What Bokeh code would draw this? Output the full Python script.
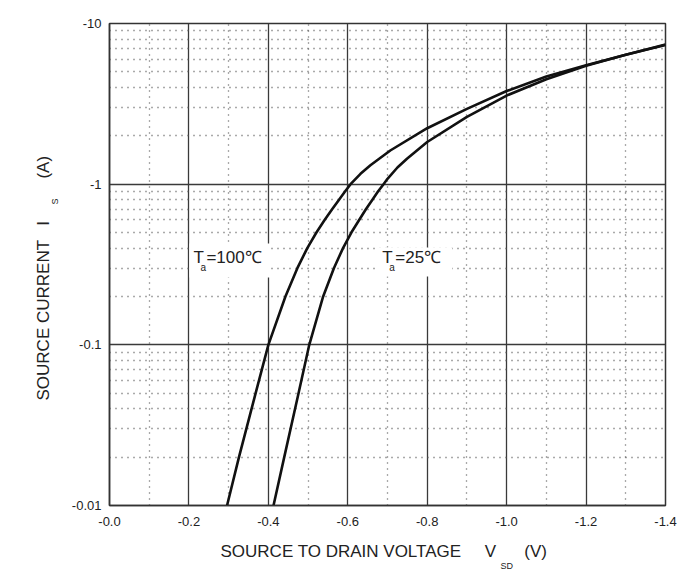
from bokeh.plotting import figure
from bokeh.models import FixedTicker, Label, BoxAnnotation, Range1d, Title
from bokeh.embed import file_html
from bokeh.resources import INLINE

# ---------------- data ----------------
x_ticks = [0.0, 0.2, 0.4, 0.6, 0.8, 1.0, 1.2, 1.4]
x_tick_labels = ["-0.0", "-0.2", "-0.4", "-0.6", "-0.8", "-1.0", "-1.2", "-1.4"]
x_minor = [0.1, 0.3, 0.5, 0.7, 0.9, 1.1, 1.3]
y_ticks = [0.01, 0.1, 1.0, 10.0]
y_tick_labels = ["-0.01", "-0.1", "-1", "-10"]
y_minor = [m * d for d in (0.01, 0.1, 1.0) for m in range(2, 10)]

# Ta = 100 C
v_100 = [0.296, 0.326, 0.368, 0.400, 0.443, 0.473, 0.498, 0.521, 0.542, 0.561,
         0.578, 0.593, 0.607, 0.632, 0.657, 0.707, 0.80, 0.90, 1.00, 1.10,
         1.20, 1.30, 1.40]
i_100 = [0.01, 0.02, 0.05, 0.1, 0.2, 0.3, 0.4, 0.5, 0.6, 0.7,
         0.8, 0.9, 1.0, 1.16, 1.31, 1.62, 2.23, 2.94, 3.80, 4.68,
         5.50, 6.40, 7.35]

# Ta = 25 C
v_25 = [0.413, 0.440, 0.476, 0.503, 0.538, 0.565, 0.588, 0.609, 0.629, 0.646,
        0.662, 0.676, 0.690, 0.700, 0.725, 0.749, 0.80, 0.90, 1.00, 1.10,
        1.20, 1.30, 1.40]
i_25 = [0.01, 0.02, 0.05, 0.1, 0.2, 0.3, 0.4, 0.5, 0.6, 0.7,
        0.8, 0.9, 1.0, 1.08, 1.27, 1.44, 1.83, 2.62, 3.56, 4.50,
        5.46, 6.40, 7.40]

x_title = "SOURCE TO DRAIN VOLTAGE"
x_unit = "V"
x_sub = "SD"
x_unit2 = "(V)"
y_title = "SOURCE CURRENT"
y_unit = "I"
y_sub = "S"
y_unit2 = "(A)"

# ---------------- figure ----------------
FONT = "Liberation Sans"
TXT = "#222222"
NB = "\u00a0"

p = figure(width=688, height=580, y_axis_type="log",
           x_range=Range1d(0, 1.4), y_range=Range1d(0.01, 10),
           output_backend="svg", toolbar_location=None,
           min_border_left=109, min_border_right=23,
           min_border_top=23, min_border_bottom=75)

p.outline_line_color = "#333333"
p.outline_line_width = 1.5
p.background_fill_color = "white"
p.border_fill_color = "white"

# grids
p.xgrid.ticker = FixedTicker(ticks=x_ticks, minor_ticks=x_minor)
p.ygrid.ticker = FixedTicker(ticks=y_ticks, minor_ticks=y_minor)
for g in (p.xgrid, p.ygrid):
    g.grid_line_color = "#3a3a3a"
    g.grid_line_width = 1.3
    g.grid_line_alpha = 1.0
    g.minor_grid_line_color = "#555555"
    g.minor_grid_line_width = 1.3
    g.minor_grid_line_dash = "1 5"

# axes
p.xaxis.ticker = FixedTicker(ticks=x_ticks, minor_ticks=[])
p.yaxis.ticker = FixedTicker(ticks=y_ticks, minor_ticks=[])
p.xaxis.major_label_overrides = {t: s for t, s in zip(x_ticks, x_tick_labels)}
p.yaxis.major_label_overrides = {t: s for t, s in zip(y_ticks, y_tick_labels)}
for ax in (p.xaxis, p.yaxis):
    ax.axis_line_color = "#333333"
    ax.axis_line_width = 1.5
    ax.major_tick_line_color = None
    ax.minor_tick_line_color = None
    ax.major_tick_out = 0
    ax.major_tick_in = 0
    ax.major_label_text_font = FONT
    ax.major_label_text_font_size = "13px"
    ax.major_label_text_color = TXT
p.xaxis.major_label_standoff = 11
p.yaxis.major_label_standoff = 8

# curves
p.line(v_100, i_100, line_color="#111111", line_width=2.6, line_join="round")
p.line(v_25, i_25, line_color="#111111", line_width=2.6, line_join="round")


# ---------------- in-plot labels (positions given in page pixels) ----------------
def px2x(px):
    return (px - 109) / 397.5


def py2y(py):
    return 10 ** (1 - (py - 23) / 160.7)


def lab(text, px, py, size):
    p.add_layout(Label(x=px2x(px), y=py2y(py), text=text,
                       text_font=FONT, text_font_size=size,
                       text_color=TXT, text_align="left",
                       text_baseline="middle"))


p.add_layout(BoxAnnotation(left=px2x(189), right=px2x(270),
                           bottom=py2y(277), top=py2y(243),
                           fill_color="white", fill_alpha=1.0,
                           line_color=None))
p.add_layout(BoxAnnotation(left=px2x(378), right=px2x(452),
                           bottom=py2y(276), top=py2y(247),
                           fill_color="white", fill_alpha=1.0,
                           line_color=None))

lab("T", 193, 257, "17px")
lab("a", 200, 267, "10px")
lab("=100\u2103", 206, 257, "17px")
lab("T", 382, 257, "17px")
lab("a", 389, 267, "10px")
lab("=25\u2103", 395, 257, "17px")


# ---------------- axis titles (as side-panel titles) ----------------
def side_title(text, where, offset, standoff, size):
    p.add_layout(Title(text=text, align="left", offset=offset,
                       standoff=standoff, text_font=FONT,
                       text_font_size=size, text_font_style="normal",
                       vertical_align="middle",
                       text_color=TXT), where)


# below: spacer, main line, subscript line
side_title(NB, "below", 0, 9, "1px")
side_title(x_title + NB * 5 + x_unit + NB * 6 + x_unit2, "below", 111, 0, "17px")
side_title(x_sub, "below", 391, -4, "9px")
# left: spacer, subscript (closer to axis), main line
side_title(NB, "left", 0, 10, "1px")
side_title(y_sub, "left", 301, -10, "9px")
side_title(y_title + NB * 3 + y_unit + NB * 9 + y_unit2, "left", 105, 0, "17px")

open("out.html", "w").write(file_html(p, INLINE))
